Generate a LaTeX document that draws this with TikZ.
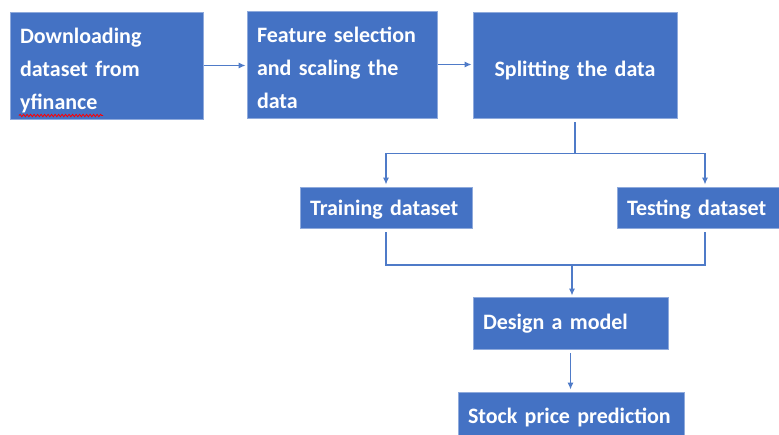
\documentclass[tikz,border=0pt]{standalone}
\usepackage{fontspec}
\setmainfont{Carlito}
\usetikzlibrary{arrows.meta,decorations.pathmorphing}
\definecolor{boxblue}{HTML}{4472C4}
\definecolor{boxedge}{HTML}{8FAADC}
\definecolor{lineblue}{HTML}{4F7BC8}
\newcommand\topgap[1]{\rule{0pt}{#1pt}}
\tikzset{
  box/.style={fill=boxblue, draw=boxedge, line width=0.8pt, text=white,
    font=\fontsize{22}{33}\selectfont\bfseries, inner xsep=10pt, inner ysep=0pt,
    align=left, anchor=center},
  conn/.style={draw=lineblue, line width=1.3pt},
  arr/.style={conn, -{Latex[length=7pt,width=6pt]}}
}
\begin{document}
\begin{tikzpicture}[x=1pt,y=-1pt]
\clip (0,0) rectangle (779,434);
\fill[white] (0,0) rectangle (779,434);
\node[box, text width=173pt, minimum height=107pt] (b1) at (106.5,65.5) {\topgap{25.5}Downloading\\dataset from\\yfinance};
\node[box, text width=170pt, minimum height=107pt] (b2) at (342,64.5) {\topgap{21.5}Feature selection\\and scaling the\\data};
\node[box, text width=184pt, minimum height=106pt, align=center] (b3) at (575,65) {\topgap{27.5}Splitting the data};
\node[box, text width=152pt, minimum height=41pt] (tr) at (386,207.5) {\topgap{19.5}Training dataset};
\node[box, text width=156pt, minimum height=41pt] (te) at (705,207.5) {\topgap{19.5}Testing dataset};
\node[box, text width=175pt, minimum height=52pt] (dm) at (570.5,323) {\topgap{17}Design a model};
\node[box, text width=206pt, minimum height=46pt] (sp) at (571,415) {\topgap{19.5}Stock price prediction};
\coordinate (j) at (572,265);
\draw[red, line width=0.8pt, decorate, decoration={snake, amplitude=1.2pt, segment length=3.5pt}] (19,115.5) -- (103,115.5);
\draw[arr, shorten <=1pt, shorten >=1pt] (b1.east) -- (b1.east -| b2.west);
\draw[arr, shorten <=1pt, shorten >=1pt] (b2.east) -- (b2.east -| b3.west);
\draw[arr, shorten <=4pt, shorten >=2pt] (b3.south) -- ++(0,35) -| (tr.north);
\draw[arr, shorten >=2pt] ([yshift=-35pt]b3.south) -| (te.north);
\draw[conn, shorten <=4pt] (tr.south) |- (j);
\draw[conn, shorten <=4pt] (te.south) |- (j);
\draw[arr, shorten >=1pt] (j) -- (j |- dm.north);
\draw[arr, shorten <=4pt, shorten >=2pt] (dm.south) -- (dm.south |- sp.north);
\end{tikzpicture}
\end{document}
